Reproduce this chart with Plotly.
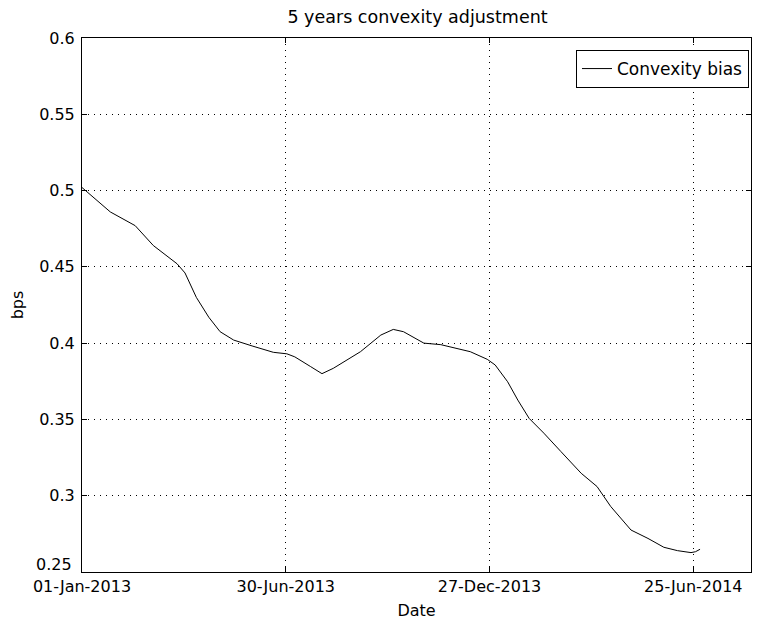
import plotly.graph_objects as go

# Convexity bias series
dates = [
    "2013-01-01", "2013-01-26", "2013-02-17", "2013-03-05", "2013-03-26",
    "2013-04-02", "2013-04-12", "2013-04-23", "2013-05-03", "2013-05-15",
    "2013-06-01", "2013-06-19", "2013-07-01", "2013-07-08", "2013-07-22",
    "2013-08-01", "2013-08-11", "2013-09-04", "2013-09-22", "2013-10-03",
    "2013-10-12", "2013-10-30", "2013-11-14", "2013-12-10", "2013-12-25",
    "2014-01-01", "2014-01-12", "2014-01-21", "2014-01-31", "2014-02-13",
    "2014-02-28", "2014-03-18", "2014-04-01", "2014-04-13", "2014-05-01",
    "2014-05-16", "2014-05-30", "2014-06-11", "2014-06-23", "2014-06-27",
    "2014-07-01",
]
bias = [
    0.502, 0.486, 0.477, 0.464, 0.452,
    0.446, 0.430, 0.417, 0.4075, 0.402,
    0.398, 0.394, 0.393, 0.391, 0.3846,
    0.380, 0.3835, 0.3944, 0.4053, 0.409,
    0.4075, 0.400, 0.399, 0.3944, 0.3894,
    0.3857, 0.3747, 0.3627, 0.3507, 0.341,
    0.329, 0.3147, 0.306, 0.293, 0.2775,
    0.272, 0.2662, 0.264, 0.2627, 0.2633,
    0.2649,
]

x_tickvals = ["2013-01-01", "2013-06-30", "2013-12-27", "2014-06-25"]
x_ticktext = ["01-Jan-2013", "30-Jun-2013", "27-Dec-2013", "25-Jun-2014"]
y_tickvals = [0.25, 0.3, 0.35, 0.4, 0.45, 0.5, 0.55, 0.6]
# lowest label is drawn as an annotation, lifted like in the original
y_ticktext = ["", "0.3", "0.35", "0.4", "0.45", "0.5", "0.55", "0.6"]

FONT = "DejaVu Sans"

fig = go.Figure()
fig.add_trace(go.Scatter(x=dates, y=bias, mode="lines", name="Convexity bias",
                         line=dict(color="black", width=1)))

axis_style = dict(showline=True, linecolor="black", linewidth=1, mirror="ticks",
                  ticks="inside", ticklen=5, tickcolor="black", automargin=False,
                  showgrid=True, gridcolor="black", gridwidth=1, griddash="1px,5px",
                  zeroline=False, tickfont=dict(family=FONT, size=16, color="black"))

# page body has an 8px margin, so the figure is a bit smaller than the window
fig.update_layout(
    width=745, height=612,
    paper_bgcolor="white", plot_bgcolor="white",
    margin=dict(l=74, r=2, t=30, b=48),
    title=dict(text="5 years convexity adjustment", x=0.5497, xanchor="center",
               y=0.985, yanchor="middle",
               font=dict(family=FONT, size=17.5, color="black")),
    xaxis=dict(range=["2013-01-01", "2014-08-15"], tickvals=x_tickvals, ticktext=x_ticktext,
               title=dict(text="Date", font=dict(family=FONT, size=16, color="black"), standoff=13),
               **axis_style),
    yaxis=dict(range=[0.25, 0.6], tickvals=y_tickvals, ticktext=y_ticktext, ticklabelstandoff=3,
               title=dict(text="bps", font=dict(family=FONT, size=16, color="black"), standoff=26),
               **axis_style),
    showlegend=True,
    legend=dict(x=0.997, y=0.9775, xanchor="right", yanchor="top",
                bordercolor="black", borderwidth=1, bgcolor="white",
                font=dict(family=FONT, size=17, color="black")),
)

fig.add_annotation(text="0.25", x=0, xref="paper", y=0.25, yref="y",
                   xanchor="right", yanchor="middle", xshift=-8, yshift=8,
                   showarrow=False, font=dict(family=FONT, size=16, color="black"))

fig.write_html("out.html")
